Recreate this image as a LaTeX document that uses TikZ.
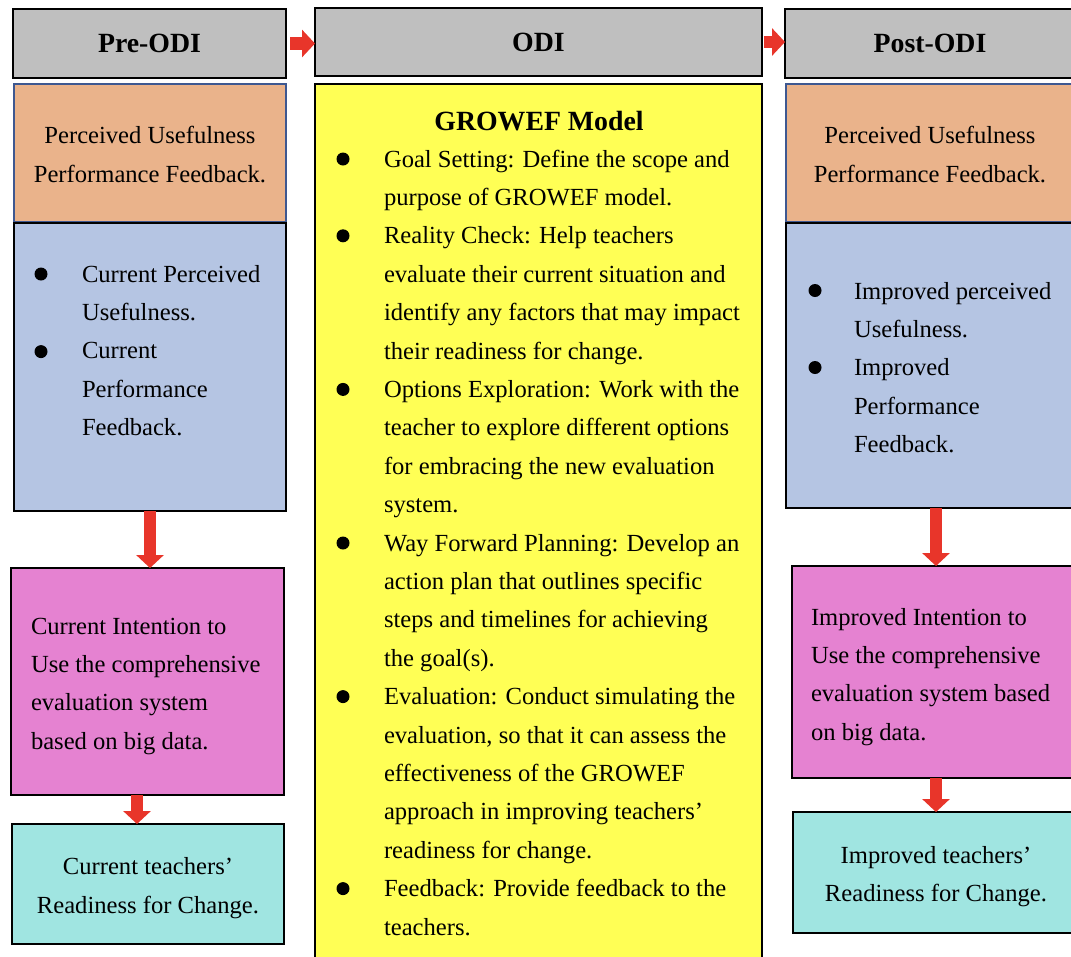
\documentclass[tikz,border=0pt]{standalone}
\usepackage{fontspec}
\setmainfont{Liberation Serif}
\usetikzlibrary{arrows.meta}
\definecolor{hdr}{HTML}{BFBFBF}
\definecolor{orng}{HTML}{EAB38B}
\definecolor{orbd}{HTML}{3E5891}
\definecolor{blu}{HTML}{B5C5E3}
\definecolor{pnk}{HTML}{E582D1}
\definecolor{cyn}{HTML}{A0E5E1}
\definecolor{ylw}{HTML}{FFFF55}
\definecolor{arw}{HTML}{E8352A}
\newcommand\mylines[2]{\begin{tabular}[t]{@{}#1@{}}#2\end{tabular}}
\newcommand\cenlines[1]{\raisebox{-2.5pt}[\height][\depth]{\begin{tabular}{@{}c@{}}#1\end{tabular}}}
\tikzset{
  box/.style={draw=black, line width=2.6pt, rectangle, inner sep=0pt, outer sep=0pt, anchor=north west,
    font=\fontsize{24.6}{38.4}\selectfont},
  hdrbox/.style={box, fill=hdr, font=\bfseries\fontsize{27.8}{30}\selectfont},
  txt/.style={inner sep=0pt, outer sep=0pt, anchor=base west, font=\fontsize{24.6}{38.4}\selectfont},
  flow/.style={draw=arw, line width=12.5pt, -{Triangle[width=27pt,length=13pt]}},
  dot/.style={circle, fill=black, inner sep=0pt, minimum size=13pt}
}
\begin{document}
\begin{tikzpicture}[x=1pt,y=-1pt]
\useasboundingbox (0,0) rectangle (1071,956);
\clip (0,0) rectangle (1071,956);
% headers
\node[hdrbox, minimum width=273pt, minimum height=69pt] (pre) at (13,9) {Pre-ODI};
\node[hdrbox, minimum width=447pt, minimum height=68pt] (odi) at (315,8) {ODI};
\node[hdrbox, minimum width=290pt, minimum height=69pt] (post) at (785,9) {Post-ODI};
% left column
\node[box, draw=orbd, fill=orng, minimum width=272pt, minimum height=138pt] (orL) at (14,84)
  {\cenlines{Perceived Usefulness\\Performance Feedback.}};
\node[box, fill=blu, minimum width=272pt, minimum height=288pt] (bluL) at (14,223) {};
\node[box, fill=pnk, minimum width=273pt, minimum height=227pt] (pnkL) at (11,568) {};
\node[box, fill=cyn, minimum width=272pt, minimum height=120pt] (cynL) at (12,824)
  {\cenlines{Current teachers'\\Readiness for Change.}};
% middle
\node[box, fill=ylw, minimum width=447pt, minimum height=900pt] (ylwM) at (315,84) {};
% right column
\node[box, draw=orbd, fill=orng, minimum width=288pt, minimum height=138pt] (orR) at (786,84)
  {\cenlines{Perceived Usefulness\\Performance Feedback.}};
\node[box, fill=blu, minimum width=300pt, minimum height=285pt] (bluR) at (786,223) {};
\node[box, fill=pnk, minimum width=290pt, minimum height=212pt] (pnkR) at (792,566) {};
\node[box, fill=cyn, minimum width=286pt, minimum height=121pt] (cynR) at (793,812)
  {\cenlines{Improved teachers'\\Readiness for Change.}};
% left texts
\node[dot] (bL1) at (41,274) {};
\node[dot] (bL2) at (41,351.6) {};
\node[txt] (tbluL) at (82,282)
  {\mylines{l}{Current Perceived\\Usefulness.\\Current\\Performance\\Feedback.}};
\node[txt] (tpnkL) at (31,634)
  {\mylines{l}{Current Intention to\\Use the comprehensive\\evaluation system\\based on big data.}};
% right texts
\node[dot] (bR1) at (815,290.5) {};
\node[dot] (bR2) at (815,367.5) {};
\node[txt] (tbluR) at (854,299)
  {\mylines{l}{Improved perceived\\Usefulness.\\Improved\\Performance\\Feedback.}};
\node[txt] (tpnkR) at (811,625)
  {\mylines{l}{Improved Intention to\\Use the comprehensive\\evaluation system based\\on big data.}};
% middle texts
\node[inner sep=0pt, anchor=base, font=\bfseries\fontsize{27.8}{30}\selectfont] (title) at (539,130) {GROWEF Model};
\foreach \k/\n in {0/1,2/2,6/3,10/4,14/5,19/6}
  \node[dot] (bM\n) at (343,{159+38.4*\k}) {};
\node[txt] (tylw) at (384,167)
  {\mylines{l}{Goal Setting: Define the scope and\\
  purpose of GROWEF model.\\
  Reality Check: Help teachers\\
  evaluate their current situation and\\
  identify any factors that may impact\\
  their readiness for change.\\
  Options Exploration: Work with the\\
  teacher to explore different options\\
  for embracing the new evaluation\\
  system.\\
  Way Forward Planning: Develop an\\
  action plan that outlines specific\\
  steps and timelines for achieving\\
  the goal(s).\\
  Evaluation: Conduct simulating the\\
  evaluation, so that it can assess the\\
  effectiveness of the GROWEF\\
  approach in improving teachers'\\
  readiness for change.\\
  Feedback: Provide feedback to the\\
  teachers.}};
% arrows
\draw[flow] ([xshift=4pt]pre.east) -- (pre.east -| odi.west);
\draw[flow] ([xshift=2pt]odi.east) -- (odi.east -| post.west);
\draw[flow] (bluL.south) -- (bluL.south |- pnkL.north);
\draw[flow] ([xshift=-10.5pt]pnkL.south) -- ([xshift=-10.5pt]pnkL.south |- cynL.north);
\draw[flow] (bluR.south) -- (bluR.south |- pnkR.north);
\draw[flow] ([xshift=-1pt]pnkR.south) -- ([xshift=-1pt]pnkR.south |- cynR.north);
\end{tikzpicture}
\end{document}
